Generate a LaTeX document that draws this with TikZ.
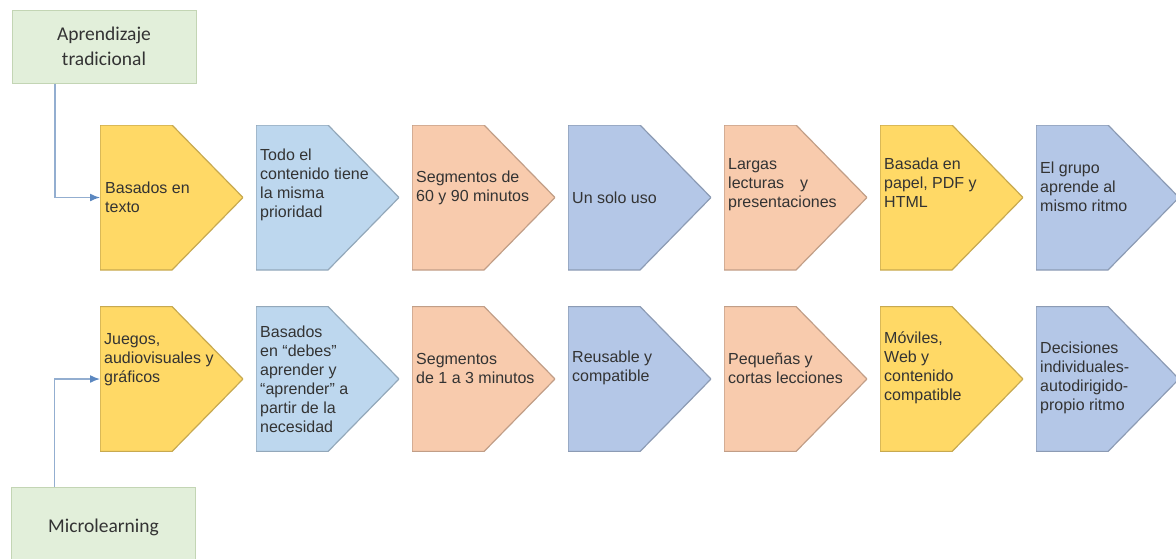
\documentclass[tikz,border=0pt]{standalone}
\usepackage{fontspec}
\setmainfont{Liberation Sans}
\newfontfamily\headfont{Carlito}
\usepackage{xcolor}
\definecolor{yelfill}{HTML}{FFD966}
\definecolor{lbluefill}{HTML}{BDD7EE}
\definecolor{bluefill}{HTML}{B4C7E7}
\definecolor{orngfill}{HTML}{F8CBAD}
\definecolor{greenfill}{HTML}{E2EFDA}
\definecolor{greenline}{HTML}{C3D5B4}
\definecolor{linkblue}{HTML}{93AED0}
\definecolor{tipblue}{HTML}{5B87C0}
\definecolor{textgray}{HTML}{333333}
\usetikzlibrary{arrows.meta, positioning}

\begin{document}
\begin{tikzpicture}[
        chev/.style={rectangle, minimum width=143pt, minimum height=145pt, inner sep=0pt, outer sep=0pt,
            path picture={\path[fill=#1, draw=#1!78!black, line width=1.2pt]
                (path picture bounding box.north west) -- ([xshift=72pt]path picture bounding box.north west)
                -- (path picture bounding box.east) -- ([xshift=72pt]path picture bounding box.south west)
                -- (path picture bounding box.south west) -- cycle;}},
        txt/.style={inner sep=0pt, align=left, text=textgray, font=\fontsize{16}{19}\selectfont},
        head/.style={rectangle, draw=greenline, fill=greenfill, line width=1pt, minimum width=184pt, align=center, text=textgray, font=\headfont\fontsize{19.5}{25}\selectfont},
        link/.style={draw=linkblue, line width=1.4pt, -{Latex[length=10pt, width=8pt, color=tipblue]}}]

        \useasboundingbox (0,0) rectangle (1176pt,-558pt);

        \node [head, minimum height=73pt] (trad) at (104pt,-46.5pt) {Aprendizaje\\tradicional};
        \node [head, minimum height=80pt] (micro) at (103.5pt,-527pt) {Microlearning};

        \node [chev=yelfill] (p1) at (171.5pt,-197.5pt) {};
        \node [chev=lbluefill, right=13pt of p1] (p2) {};
        \node [chev=orngfill, right=13pt of p2] (p3) {};
        \node [chev=bluefill, right=13pt of p3] (p4) {};
        \node [chev=orngfill, right=13pt of p4] (p5) {};
        \node [chev=yelfill, right=13pt of p5] (p6) {};
        \node [chev=bluefill, right=13pt of p6] (p7) {};

        \node [chev=yelfill] (q1) at (171.5pt,-379pt) {};
        \node [chev=lbluefill, right=13pt of q1] (q2) {};
        \node [chev=orngfill, right=13pt of q2] (q3) {};
        \node [chev=bluefill, right=13pt of q3] (q4) {};
        \node [chev=orngfill, right=13pt of q4] (q5) {};
        \node [chev=yelfill, right=13pt of q5] (q6) {};
        \node [chev=bluefill, right=13pt of q6] (q7) {};

        \node [txt, right=5pt of p1.west] (tp1) {Basados en\\texto};
        \node [txt, right=4pt of p2.west, yshift=13pt] (tp2) {Todo el\\contenido tiene\\la misma\\prioridad};
        \node [txt, right=4pt of p3.west, yshift=10pt] (tp3) {Segmentos de\\60 y 90 minutos};
        \node [txt, right=4pt of p4.west] (tp4) {Un solo uso};
        \node [txt, right=4pt of p5.west, yshift=13pt] (tp5) {Largas\\lecturas\quad y\\presentaciones};
        \node [txt, right=4pt of p6.west, yshift=15pt] (tp6) {Basada en\\papel, PDF y\\HTML};
        \node [txt, right=4pt of p7.west, yshift=11pt] (tp7) {El grupo\\aprende al\\mismo ritmo};

        \node [txt, right=4pt of q1.west, yshift=19pt] (tq1) {Juegos,\\audiovisuales y\\gráficos};
        \node [txt, right=4pt of q2.west] (tq2) {Basados\\en “debes”\\aprender y\\“aprender” a\\partir de la\\necesidad};
        \node [txt, right=4pt of q3.west, yshift=11pt] (tq3) {Segmentos\\de 1 a 3 minutos};
        \node [txt, right=4pt of q4.west, yshift=11pt] (tq4) {Reusable y\\compatible};
        \node [txt, right=4pt of q5.west, yshift=11pt] (tq5) {Pequeñas y\\cortas lecciones};
        \node [txt, right=4pt of q6.west, yshift=11pt] (tq6) {Móviles,\\Web y\\contenido\\compatible};
        \node [txt, right=4pt of q7.west, yshift=1pt] (tq7) {Decisiones\\individuales-\\autodirigido-\\propio ritmo};

        \path [link] ([xshift=-49pt]trad.south) |- (p1.west);
        \path [link] ([xshift=-49pt]micro.north) |- (q1.west);
    \end{tikzpicture}
\end{document}
